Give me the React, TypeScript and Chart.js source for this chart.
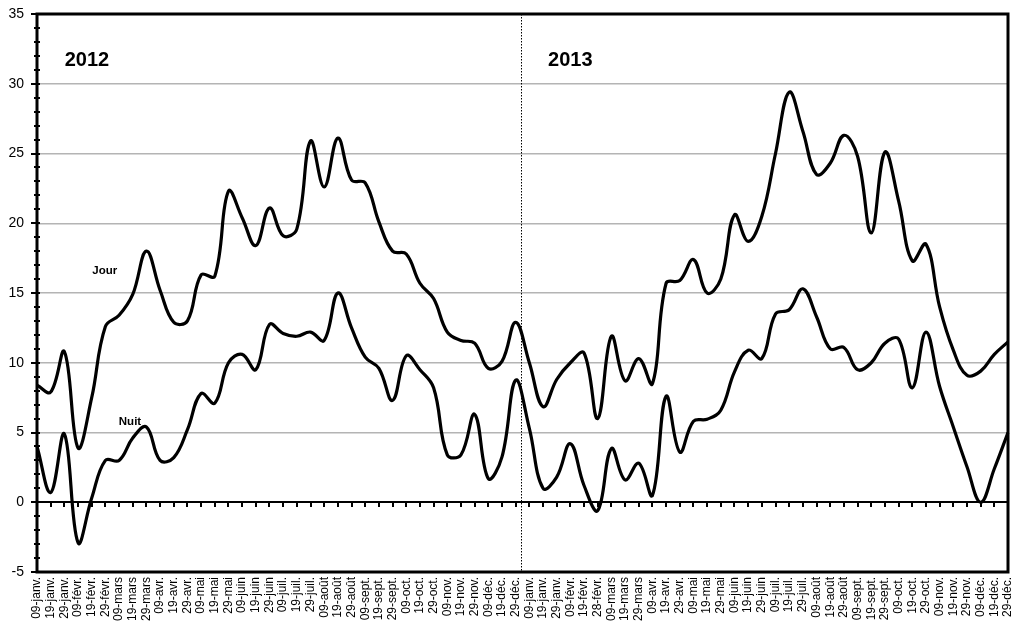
import React, { useEffect, useRef } from "react";
import { Chart, registerables } from "chart.js";

Chart.register(...registerables);

const labels2012 = [
  "09-janv.", "19-janv.", "29-janv.", "09-févr.", "19-févr.", "29-févr.",
  "09-mars", "19-mars", "29-mars", "09-avr.", "19-avr.", "29-avr.",
  "09-mai", "19-mai", "29-mai", "09-juin", "19-juin", "29-juin",
  "09-juil.", "19-juil.", "29-juil.", "09-août", "19-août", "29-août",
  "09-sept.", "19-sept.", "29-sept.", "09-oct.", "19-oct.", "29-oct.",
  "09-nov.", "19-nov.", "29-nov.", "09-déc.", "19-déc.", "29-déc.",
];
const labels2013 = [
  "09-janv.", "19-janv.", "29-janv.", "09-févr.", "19-févr.", "28-févr.",
  "09-mars", "19-mars", "29-mars", "09-avr.", "19-avr.", "29-avr.",
  "09-mai", "19-mai", "29-mai", "09-juin", "19-juin", "29-juin",
  "09-juil.", "19-juil.", "29-juil.", "09-août", "19-août", "29-août",
  "09-sept.", "19-sept.", "29-sept.", "09-oct.", "19-oct.", "29-oct.",
  "09-nov.", "19-nov.", "29-nov.", "09-déc.", "19-déc.", "29-déc.",
];
const categories = [...labels2012, ...labels2013];

const jour = [
  8.4, 7.9, 10.8, 3.9, 7.5, 12.6, 13.4, 14.9, 18.0, 15.2, 12.9, 13.0,
  16.3, 16.2, 22.3, 20.4, 18.4, 21.1, 19.1, 19.6, 25.9, 22.6, 26.1, 23.1,
  22.9, 20.1, 18.0, 17.8, 15.7, 14.6, 12.2, 11.6, 11.4, 9.6, 10.1, 12.9,
  10.0, 6.85, 8.8, 10.0, 10.7, 6.0, 11.9, 8.7, 10.3, 8.5, 15.7, 15.9,
  17.4, 15.0, 16.0, 20.6, 18.7, 20.5, 25.0, 29.4, 26.6, 23.5, 24.3, 26.3,
  24.8, 19.3, 25.1, 21.6, 17.3, 18.5, 14.0, 10.9, 9.1, 9.4, 10.6, 11.5,
];
const nuit = [
  4.0, 0.7, 4.9, -2.9, 0.3, 3.0, 3.0, 4.6, 5.4, 3.0, 3.2, 5.2,
  7.8, 7.1, 10.0, 10.6, 9.5, 12.75, 12.1, 11.9, 12.2, 11.6, 15.0, 12.5,
  10.4, 9.6, 7.3, 10.5, 9.5, 8.2, 3.4, 3.4, 6.3, 1.7, 3.25, 8.75,
  5.3, 1.0, 1.8, 4.2, 1.2, -0.6, 3.85, 1.6, 2.8, 0.5, 7.6, 3.6,
  5.8, 5.95, 6.6, 9.35, 10.9, 10.3, 13.5, 13.8, 15.3, 13.3, 11.0, 11.1,
  9.5, 10.0, 11.4, 11.7, 8.2, 12.2, 8.3, 5.4, 2.55, 0.0, 2.4, 5.0,
];

const Y_MIN = -5;
const Y_MAX = 35;
const Y_STEP = 5;
const YEAR_SPLIT_POS = 35.4;

const FONT = "'Liberation Sans', Arial, Helvetica, sans-serif";

const decorPlugin = {
  id: "decor",
  beforeDatasetsDraw(chart: any) {
    const { ctx, chartArea, scales } = chart;
    const x = scales.x;
    const xs = Math.round(x.getPixelForValue(YEAR_SPLIT_POS));
    ctx.save();
    ctx.strokeStyle = "#000";
    ctx.lineWidth = 1;
    ctx.setLineDash([1.5, 1.5]);
    ctx.beginPath();
    ctx.moveTo(xs + 0.5, chartArea.top);
    ctx.lineTo(xs + 0.5, chartArea.bottom);
    ctx.stroke();
    ctx.restore();
  },
  afterDraw(chart: any) {
    const { ctx, chartArea, scales } = chart;
    const x = scales.x;
    const y = scales.y;
    ctx.save();
    ctx.strokeStyle = "#000";
    ctx.lineWidth = 3;
    ctx.strokeRect(chartArea.left, chartArea.top, chartArea.right - chartArea.left, chartArea.bottom - chartArea.top);
    ctx.lineWidth = 2;
    for (let v = Y_MIN; v <= Y_MAX; v += 1) {
      const py = Math.round(y.getPixelForValue(v));
      const major = v % Y_STEP === 0;
      ctx.beginPath();
      ctx.moveTo(chartArea.left - (major ? 6 : 3), py);
      ctx.lineTo(chartArea.left + 3, py);
      ctx.stroke();
    }
    const y0 = Math.round(y.getPixelForValue(0));
    for (let i = 1; i < categories.length - 1; i++) {
      const px = Math.round(x.getPixelForValue(i));
      ctx.beginPath();
      ctx.moveTo(px, y0);
      ctx.lineTo(px, y0 + 5);
      ctx.stroke();
    }
    ctx.fillStyle = "#000";
    ctx.textAlign = "center";
    ctx.textBaseline = "middle";
    ctx.font = `bold 20px ${FONT}`;
    ctx.fillText("2012", x.getPixelForValue(3.65), y.getPixelForValue(31.7));
    ctx.fillText("2013", x.getPixelForValue(39.0), y.getPixelForValue(31.7));
    ctx.font = `bold 11.5px ${FONT}`;
    ctx.fillText("Jour", x.getPixelForValue(4.95), y.getPixelForValue(16.6));
    ctx.fillText("Nuit", x.getPixelForValue(6.8), y.getPixelForValue(5.8));
    ctx.restore();
  },
};

export default function App() {
  const canvasRef = useRef<HTMLCanvasElement | null>(null);

  useEffect(() => {
    const canvas = canvasRef.current;
    if (!canvas) return;
    Chart.defaults.font.family = FONT;
    const chart = new Chart(canvas, {
      type: "line",
      data: {
        labels: categories,
        datasets: [
          {
            label: "Jour",
            data: jour,
            borderColor: "#000",
            borderWidth: 3.2,
            pointRadius: 0,
            tension: 0.4,
            fill: false,
          },
          {
            label: "Nuit",
            data: nuit,
            borderColor: "#000",
            borderWidth: 3.2,
            pointRadius: 0,
            tension: 0.4,
            fill: false,
          },
        ],
      },
      options: {
        responsive: false,
        animation: false,
        layout: { padding: { top: 14, right: 15, left: 0, bottom: 0 } },
        plugins: {
          legend: { display: false },
          tooltip: { enabled: false },
        },
        scales: {
          x: {
            type: "category",
            offset: false,
            grid: { display: false, drawTicks: false },
            border: { display: false },
            ticks: {
              autoSkip: false,
              minRotation: 90,
              maxRotation: 90,
              padding: 5,
              color: "#000",
              font: { size: 12, family: FONT },
            },
            afterFit(scale: any) {
              scale.height = 50;
              scale.paddingLeft = 0;
              scale.paddingRight = 0;
            },
          },
          y: {
            min: Y_MIN,
            max: Y_MAX,
            border: { display: false },
            grid: {
              drawTicks: false,
              color: (ctx: any) => {
                const v = ctx.tick ? ctx.tick.value : null;
                if (v === 0) return "#000";
                if (v === Y_MIN || v === Y_MAX) return "rgba(0,0,0,0)";
                return "#b4b4b4";
              },
              lineWidth: (ctx: any) => (ctx.tick && ctx.tick.value === 0 ? 2 : 1.5),
            },
            ticks: {
              stepSize: Y_STEP,
              padding: 13,
              color: "#000",
              font: { size: 14, family: FONT },
            },
            afterFit(scale: any) {
              scale.width = 37;
              scale.paddingTop = 0;
              scale.paddingBottom = 0;
            },
          },
        },
      },
      plugins: [decorPlugin],
    });
    return () => chart.destroy();
  }, []);

  return (
    <div style={{ position: "absolute", left: 0, top: 0, width: 1023, height: 622, background: "#fff" }}>
      <canvas ref={canvasRef} width={1023} height={622} style={{ display: "block" }} />
    </div>
  );
}
